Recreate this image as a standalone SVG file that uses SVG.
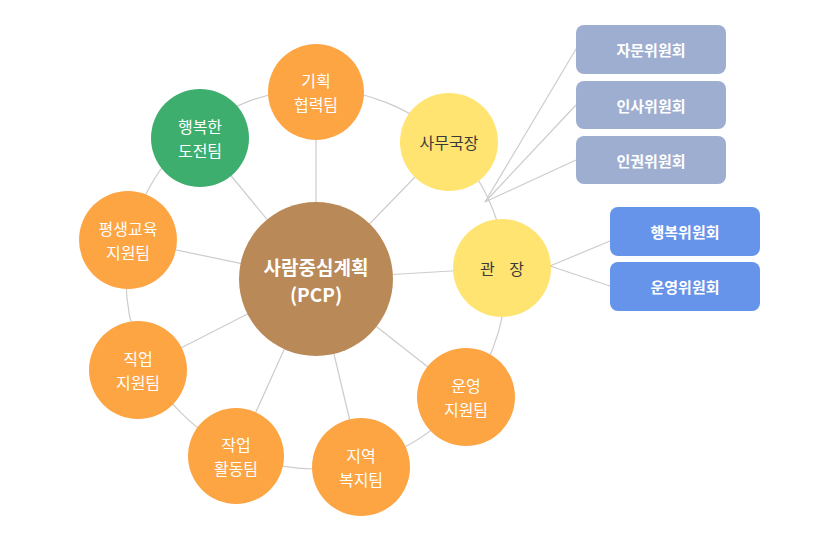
<svg xmlns="http://www.w3.org/2000/svg" width="840" height="560" viewBox="0 0 840 560">
<style>
.ln{fill:none;stroke:#cccccc;stroke-width:1.2}
.t{font-family:"Noto Sans CJK KR","Noto Sans",sans-serif;font-size:16px;fill:#ffffff;text-anchor:middle;dominant-baseline:central}
.dk{fill:#3a3a3a}
.b{font-weight:bold;font-size:15px}
.c{font-weight:bold;font-size:19px}
.or{fill:#fda443}
.gr{fill:#3dae6d}
.ye{fill:#ffe471}
.br{fill:#b98a58}
.gb{fill:#9daed0}
.bb{fill:#6694ea}
</style>
<rect width="840" height="560" fill="#ffffff"/>
<g id="connectors">
<circle class="ln" cx="316" cy="279" r="190"/>
<line class="ln" x1="316" y1="279" x2="316" y2="92"/>
<line class="ln" x1="316" y1="279" x2="449" y2="142"/>
<line class="ln" x1="316" y1="279" x2="502" y2="268"/>
<line class="ln" x1="316" y1="279" x2="466" y2="397"/>
<line class="ln" x1="316" y1="279" x2="361" y2="467"/>
<line class="ln" x1="316" y1="279" x2="236" y2="456"/>
<line class="ln" x1="316" y1="279" x2="138" y2="370"/>
<line class="ln" x1="316" y1="279" x2="128" y2="240"/>
<line class="ln" x1="316" y1="279" x2="200" y2="138"/>
<line class="ln" x1="485" y1="202" x2="576" y2="49"/>
<line class="ln" x1="485" y1="202" x2="576" y2="105"/>
<line class="ln" x1="485" y1="202" x2="576" y2="160"/>
<line class="ln" x1="550" y1="266" x2="610" y2="241"/>
<line class="ln" x1="550" y1="266" x2="610" y2="286"/>
</g>
<g id="center"><circle class="br" cx="316" cy="279" r="77"/><text class="t c" x="316" y="266">사람중심계획</text><text class="t c" x="316" y="293">(PCP)</text></g>
<g id="n-gihoek"><circle class="or" cx="316" cy="92" r="48"/><text class="t" x="316" y="80">기획</text><text class="t" x="316" y="104">협력팀</text></g>
<g id="n-samu"><circle class="ye" cx="449" cy="142" r="49"/><text class="t dk" x="449" y="142">사무국장</text></g>
<g id="n-gwanjang"><circle class="ye" cx="502" cy="268" r="49"/><text class="t dk" x="502" y="268" xml:space="preserve">관    장</text></g>
<g id="n-unyeong"><circle class="or" cx="466" cy="397" r="49"/><text class="t" x="466" y="385">운영</text><text class="t" x="466" y="409">지원팀</text></g>
<g id="n-jiyeok"><circle class="or" cx="361" cy="467" r="49"/><text class="t" x="361" y="455">지역</text><text class="t" x="361" y="479">복지팀</text></g>
<g id="n-jakeop"><circle class="or" cx="236" cy="456" r="48"/><text class="t" x="236" y="444">작업</text><text class="t" x="236" y="468">활동팀</text></g>
<g id="n-jigeop"><circle class="or" cx="138" cy="370" r="49"/><text class="t" x="138" y="358">직업</text><text class="t" x="138" y="382">지원팀</text></g>
<g id="n-pyeongsaeng"><circle class="or" cx="128" cy="240" r="49"/><text class="t" x="128" y="228">평생교육</text><text class="t" x="128" y="252">지원팀</text></g>
<g id="n-haengbok"><circle class="gr" cx="200" cy="138" r="49"/><text class="t" x="200" y="126">행복한</text><text class="t" x="200" y="150">도전팀</text></g>
<g id="b-jamun"><rect class="gb" x="576" y="25" width="150" height="49" rx="8"/><text class="t b" x="651" y="49.5">자문위원회</text></g>
<g id="b-insa"><rect class="gb" x="576" y="81" width="150" height="48" rx="8"/><text class="t b" x="651" y="105">인사위원회</text></g>
<g id="b-ingwon"><rect class="gb" x="576" y="136" width="150" height="48" rx="8"/><text class="t b" x="651" y="160">인권위원회</text></g>
<g id="b-haengbok"><rect class="bb" x="610" y="207" width="150" height="49" rx="8"/><text class="t b" x="685" y="231.5">행복위원회</text></g>
<g id="b-unyeong"><rect class="bb" x="610" y="262" width="150" height="49" rx="8"/><text class="t b" x="685" y="286.5">운영위원회</text></g>
</svg>
